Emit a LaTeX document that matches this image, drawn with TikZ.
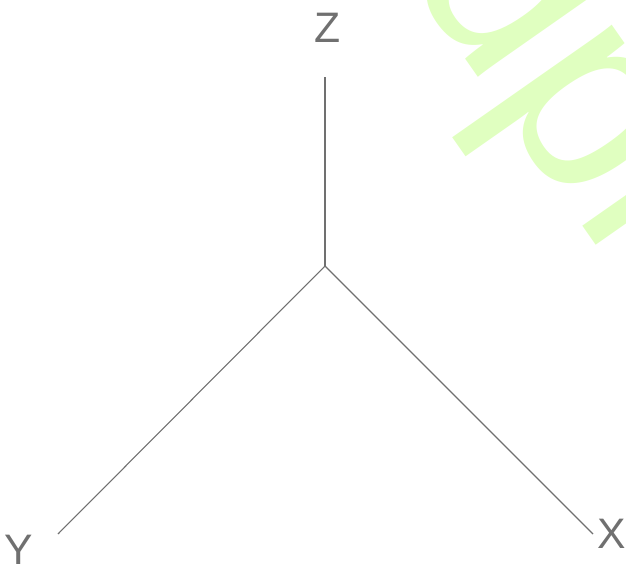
\documentclass[tikz,border=0pt]{standalone}
\usepackage{fontspec}
\setmainfont{Liberation Sans}
\usepackage{xcolor}
\usepackage{tikz}
\usetikzlibrary{positioning}

\definecolor{axisgray}{HTML}{707070}
\definecolor{markgreen}{HTML}{E0FFC0}

\begin{document}
\begin{tikzpicture}[
    x=0.75pt, y=-0.75pt,
    axis/.style={draw=axisgray, line width=0.8pt},
    axislabel/.style={text=axisgray, inner sep=0pt, font=\fontsize{32}{36}\selectfont},
    watermark/.style={text=markgreen, inner sep=0pt, anchor=base west, rotate=-55, font=\fontsize{199}{220}\selectfont}
  ]

  \useasboundingbox (0,0) rectangle (626,567);
  \clip (0,0) rectangle (626,567);

  \node[watermark] (mark) at (403,-30) {dpl};

  \coordinate (o) at (325,266);
  \coordinate (zend) at (325,77);
  \coordinate (yend) at (58,534);
  \coordinate (xend) at (593,534);

  \node[axislabel] (zlab) at (328,28) {Z};
  \node[axislabel] (ylab) at (19,550) {Y};
  \node[axislabel] (xlab) at (612,534) {X};

  \draw[axis] (o) -- (zend);
  \draw[axis] (o) -- (yend);
  \draw[axis] (o) -- (xend);

\end{tikzpicture}
\end{document}
